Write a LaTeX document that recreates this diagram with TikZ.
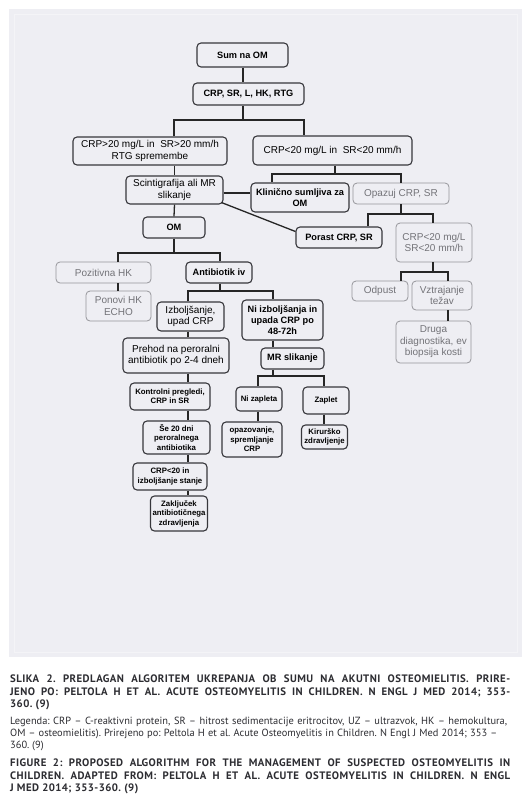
\documentclass[tikz,border=0pt]{standalone}
\usepackage{fontspec}
\setmainfont{Liberation Sans}
\newfontfamily\capfont{PT Sans}
\newfontfamily\captitlefont[LetterSpace=4]{PT Sans}
\usetikzlibrary{calc}
\frenchspacing
\definecolor{panel}{RGB}{238,238,243}
\definecolor{panelframe}{RGB}{244,244,247}
\definecolor{boxline}{RGB}{55,55,60}
\definecolor{grayline}{RGB}{150,150,155}
\definecolor{graytext}{RGB}{115,115,120}
\definecolor{captext}{RGB}{45,45,50}
\tikzset{
  box/.style={draw=boxline, line width=1.1pt, rounded corners=4pt, fill=panel,
    align=center, inner sep=0pt, font=\fontsize{10}{11.5}\selectfont, text=black},
  boldbox/.style={box, font=\bfseries\fontsize{9.2}{11}\selectfont},
  smallbox/.style={box, font=\bfseries\fontsize{7.8}{9.4}\selectfont},
  graybox/.style={box, draw=grayline, line width=0.8pt, text=graytext},
  conn/.style={draw=black!85, line width=1.3pt},
  captitle/.style={anchor=west, inner sep=0pt, text=captext, font=\captitlefont\bfseries\fontsize{10.8}{12}\selectfont},
  caplegend/.style={anchor=west, inner sep=0pt, text=captext, font=\capfont\fontsize{10.4}{12}\selectfont},
}
\begin{document}
\begin{tikzpicture}[x=1pt,y=-1pt]
\useasboundingbox (0,0) rectangle (532,804);
\fill[white] (0,0) rectangle (532,804);
\fill[panel] (9,9) rectangle (522,657);
\draw[panelframe, line width=0.8pt] (14,14) rectangle (517,652);

% nodes
\node[boldbox, minimum width=91, minimum height=24] (sum) at (242.5,55) {Sum na OM};
\node[boldbox, minimum width=111, minimum height=22] (crp) at (248.5,94) {CRP, SR, L, HK, RTG};
\node[box, minimum width=154, minimum height=28] (hi) at (150,151) {CRP>20 mg/L in\ \ SR>20 mm/h\\RTG spremembe};
\node[box, minimum width=159, minimum height=29] (lo) at (332.5,150.5) {CRP<20 mg/L in\ \ SR<20 mm/h};
\node[box, minimum width=97, minimum height=28] (scint) at (174.5,190) {Scintigrafija ali MR\\slikanje};
\node[boldbox, minimum width=98, minimum height=29] (klin) at (300,197.5) {Klinično sumljiva za\\OM};
\node[graybox, minimum width=96, minimum height=21] (opaz) at (401,193.5) {Opazuj CRP, SR};
\node[boldbox, minimum width=86, minimum height=21] (porast) at (339,237.5) {Porast CRP, SR};
\node[graybox, minimum width=76, minimum height=39] (crp20) at (434,242.5) {CRP<20 mg/L\\SR<20 mm/h};
\node[graybox, minimum width=56, minimum height=20] (odpust) at (380,291) {Odpust};
\node[graybox, minimum width=60, minimum height=29] (vztr) at (442,295.5) {Vztrajanje\\težav};
\node[graybox, minimum width=75, minimum height=42] (druga) at (433.5,342) {Druga\\diagnostika, ev\\biopsija kosti};
\node[boldbox, minimum width=62, minimum height=21] (om) at (174,227.5) {OM};
\node[graybox, minimum width=95, minimum height=21] (poz) at (103.5,272.5) {Pozitivna HK};
\node[boldbox, minimum width=66, minimum height=21] (anti) at (219,272.5) {Antibiotik iv};
\node[graybox, minimum width=65, minimum height=30] (ponovi) at (118.5,306) {Ponovi HK\\ECHO};
\node[box, minimum width=67, minimum height=29] (izb) at (190.5,316.5) {Izboljšanje,\\upad CRP};
\node[boldbox, minimum width=81, minimum height=40] (niizb) at (282.5,320) {Ni izboljšanja in\\upada CRP po\\48-72h};
\node[box, minimum width=106, minimum height=35] (prehod) at (176,355.5) {Prehod na peroralni\\antibiotik po 2-4 dneh};
\node[boldbox, minimum width=63, minimum height=21] (mr) at (292.5,358.5) {MR slikanje};
\node[smallbox, minimum width=80, minimum height=27] (kontr) at (170,396.5) {Kontrolni pregledi,\\CRP in SR};
\node[smallbox, minimum width=46, minimum height=24] (nizap) at (259,399) {Ni zapleta};
\node[smallbox, minimum width=46, minimum height=27] (zaplet) at (326,400.5) {Zaplet};
\node[smallbox, minimum width=67, minimum height=33] (se20) at (176.5,437.5) {Še 20 dni\\peroralnega\\antibiotika};
\node[smallbox, minimum width=60, minimum height=35] (opaz2) at (252,439.5) {opazovanje,\\spremljanje\\CRP};
\node[smallbox, minimum width=46, minimum height=24] (kir) at (324.5,437) {Kirurško\\zdravljenje};
\node[smallbox, minimum width=57, minimum height=35] (zakl) at (179,513.5) {Zaključek\\antibiotičnega\\zdravljenja};
\node[smallbox, minimum width=74, minimum height=27] (crplt) at (170,476.5) {CRP<20 in\\izboljšanje stanje};

% junction coordinates
\coordinate (j1) at (243,120); \coordinate (j1l) at (174,120); \coordinate (j1r) at (304,120);
\coordinate (j2) at (335,174); \coordinate (j2l) at (272,174); \coordinate (j2r) at (401,174);
\coordinate (j3) at (401,214); \coordinate (j3l) at (368,214); \coordinate (j3r) at (433,214);
\coordinate (j4) at (174,253); \coordinate (j4l) at (118,253); \coordinate (j4r) at (220,253);
\coordinate (j5) at (220,291); \coordinate (j5l) at (188,291); \coordinate (j5r) at (273,291);
\coordinate (j6) at (433,272); \coordinate (j6l) at (401,272); \coordinate (j6r) at (448,272);
\coordinate (j7) at (273,376); \coordinate (j7l) at (258,376); \coordinate (j7r) at (324,376);
\coordinate (cx) at (188,0);

% connectors
\draw[conn] (sum.south -| j1) -- (crp.north -| j1);
\draw[conn] (crp.south -| j1) -- (j1);
\draw[conn] (hi.north -| j1l) |- (j1r) -- (lo.north -| j1r);
\draw[conn] (scint.north |- hi.south) -- (scint.north);
\draw[conn] (lo.south -| j2) -- (j2);
\draw[conn] (klin.north -| j2l) |- (j2r) -- (opaz.north -| j2r);
\draw[conn] ([yshift=-3pt]scint.east) -- ([yshift=-3pt]scint.east -| klin.west);
\draw[conn] ([xshift=-2pt,yshift=2pt]scint.south east) -- ([yshift=6pt]porast.west);
\draw[conn] (scint.south) -- (om.north);
\draw[conn] (opaz.south -| j3) -- (j3);
\draw[conn] (porast.north -| j3l) |- (j3r) -- (crp20.north -| j3r);
\draw[conn] (om.south -| j4) -- (j4);
\draw[conn] (poz.north -| j4l) |- (j4r) -- (anti.north -| j4r);
\draw[conn] (poz.south -| j4l) -- (ponovi.north -| j4l);
\draw[conn] (anti.south -| j5) -- (j5);
\draw[conn] (izb.north -| j5l) |- (j5r) -- (niizb.north -| j5r);
\draw[conn] (crp20.south -| j6) -- (j6);
\draw[conn] (odpust.north -| j6l) |- (j6r) -- (vztr.north -| j6r);
\draw[conn] (vztr.south -| j6r) -- (druga.north -| j6r);
\draw[conn] (izb.south -| cx) -- (prehod.north -| cx);
\draw[conn] (prehod.south -| cx) -- (kontr.north -| cx);
\draw[conn] (kontr.south -| cx) -- (se20.north -| cx);
\draw[conn] (se20.south -| cx) -- (crplt.north -| cx);
\draw[conn] (crplt.south -| cx) -- (zakl.north -| cx);
\draw[conn] (niizb.south -| j5r) -- (mr.north -| j5r);
\draw[conn] (mr.south -| j7) -- (j7);
\draw[conn] (nizap.north -| j7l) |- (j7r) -- (zaplet.north -| j7r);
\draw[conn] (nizap.south -| j7l) -- (opaz2.north -| j7l);
\draw[conn] (zaplet.south -| j7r) -- (kir.north -| j7r);

% caption
\node[captitle] (c1) at (10,679) {\makebox[500pt][s]{SLIKA 2. PREDLAGAN ALGORITEM UKREPANJA OB SUMU NA AKUTNI OSTEOMIELITIS. PRIRE-}};
\node[captitle] (c2) at (10,692) {\makebox[500pt][s]{JENO PO: PELTOLA H ET AL. ACUTE OSTEOMYELITIS IN CHILDREN. N ENGL J MED 2014; 353-}};
\node[captitle] (c3) at (10,705) {360. (9)};
\node[caplegend] (l1) at (10,722) {\makebox[497pt][s]{Legenda: CRP – C-reaktivni protein, SR – hitrost sedimentacije eritrocitov, UZ – ultrazvok, HK – hemokultura,}};
\node[caplegend] (l2) at (10,734) {\makebox[487pt][s]{OM – osteomielitis). Prirejeno po: Peltola H et al. Acute Osteomyelitis in Children. N Engl J Med 2014; 353 –}};
\node[caplegend] (l3) at (10,746) {360. (9)};
\node[captitle] (f1) at (10,763) {\makebox[500pt][s]{FIGURE 2: PROPOSED ALGORITHM FOR THE MANAGEMENT OF SUSPECTED OSTEOMYELITIS IN}};
\node[captitle] (f2) at (10,776) {\makebox[500pt][s]{CHILDREN. ADAPTED FROM: PELTOLA H ET AL. ACUTE OSTEOMYELITIS IN CHILDREN. N ENGL}};
\node[captitle] (f3) at (10,789) {J MED 2014; 353-360. (9)};
\end{tikzpicture}
\end{document}
